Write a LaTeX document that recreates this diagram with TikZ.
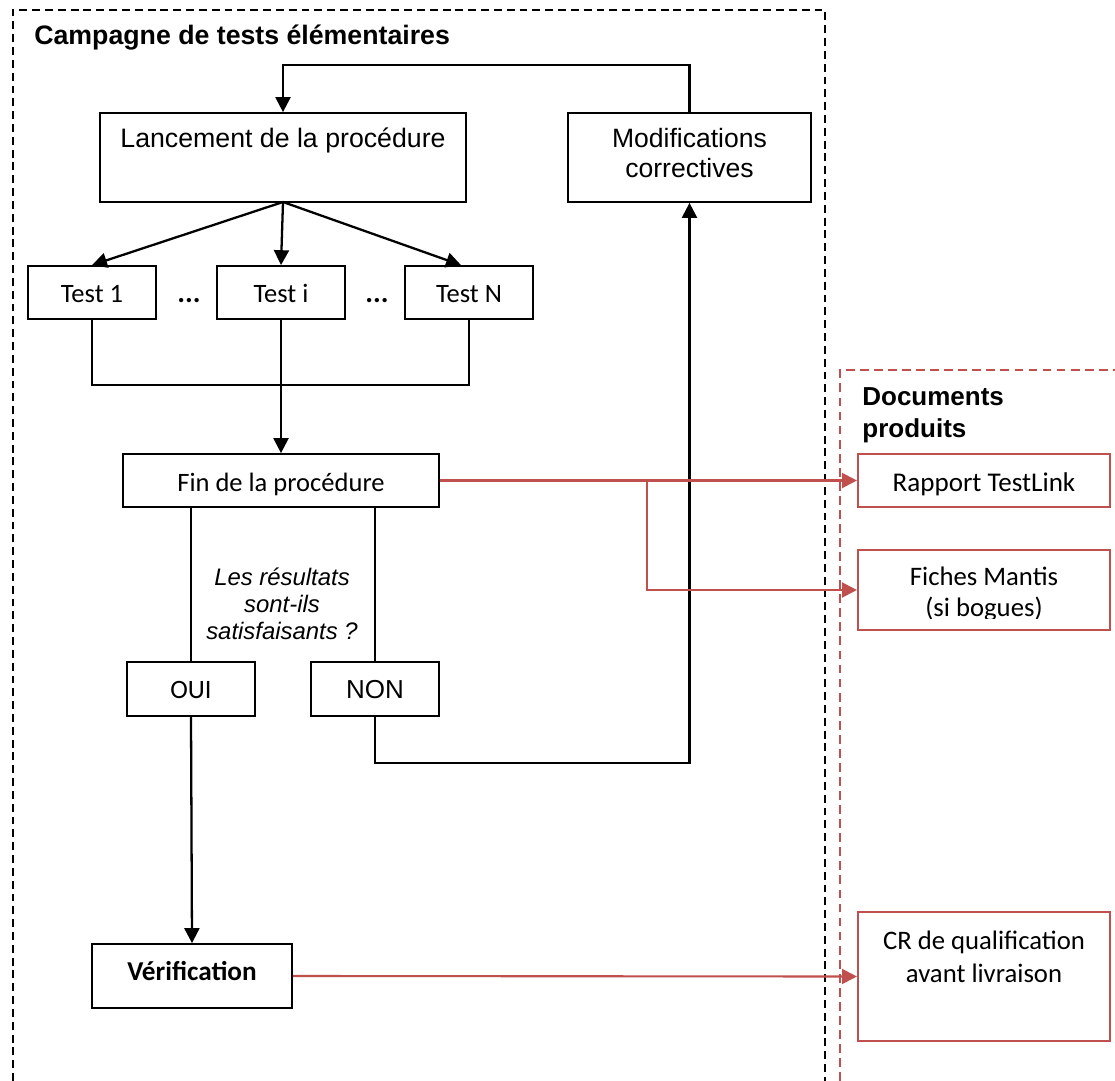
\documentclass[tikz,border=0pt]{standalone}
\usepackage{fontspec}
\setmainfont{Carlito}
\newfontfamily\arial{Liberation Sans}
\usetikzlibrary{arrows.meta,calc}
\definecolor{docred}{HTML}{C0504D}
\tikzset{
  box/.style={draw, line width=1pt, inner sep=0pt, text height=#1, text depth=0pt},
  rbox/.style={draw=docred, line width=1.2pt, inner sep=0pt},
  conn/.style={line width=1.3pt},
  arr/.style={line width=1.3pt, -{Triangle[length=8.5pt,width=8.5pt]}},
  rarr/.style={draw=docred, line width=1.2pt, -{Triangle[length=8.5pt,width=8.5pt]}},
  thin/.style={line width=1pt},
  frame/.style={line width=1.3pt, dash pattern=on 4.5pt off 2.8pt},
  rframe/.style={draw=docred, line width=1.1pt, dash pattern=on 5pt off 3pt},
  cal/.style={font=\fontsize{15.1}{18}\selectfont},
}
\begin{document}
\begin{tikzpicture}[x=0.02cm,y=-0.02cm]
\useasboundingbox (0,0) rectangle (1115,1081);
% frames
\draw[frame] (13,1081) -- (13,10) -- (825,10) -- (825,1081);
\draw[rframe] (840,1081) -- (840,370) -- (1115,370);
\node[anchor=base west, inner sep=0pt, font=\arial\bfseries\fontsize{15.2}{18}\selectfont] (title) at (34,45) {Campagne de tests élémentaires};
\node[anchor=base west, inner sep=0pt, align=left, font=\arial\bfseries\fontsize{14.8}{18}\selectfont] (docs) at (862,437) {Documents\\produits};

% black boxes
\node[box=0pt, text depth=19*0.02cm, minimum width=366*0.02cm, minimum height=89*0.02cm, font=\arial\fontsize{15.2}{18}\selectfont] (lanc) at (283,157.5) {Lancement de la procédure};
\node[draw, line width=1pt, minimum width=243*0.02cm, minimum height=89*0.02cm] (modif) at (689.5,157.5) {};
\node[anchor=base, inner sep=0pt, align=center, font=\arial\fontsize{15.1}{17.2}\selectfont] (modiftxt) at (689.5,178) {Modifications\\correctives};

\node[box=19*0.02cm, cal, minimum width=128*0.02cm, minimum height=53*0.02cm] (test1) at (92,292.5) {Test 1};
\node[box=19*0.02cm, cal, minimum width=128*0.02cm, minimum height=53*0.02cm] (testi) at (281,292.5) {Test i};
\node[box=19*0.02cm, cal, minimum width=128*0.02cm, minimum height=53*0.02cm] (testN) at (469,292.5) {Test N};
\node[anchor=base, inner sep=0pt, font=\bfseries\fontsize{16.5}{18}\selectfont] (dots1) at (189,302) {...};
\node[anchor=base, inner sep=0pt, font=\bfseries\fontsize{16.5}{18}\selectfont] (dots2) at (377,302) {...};

\node[box=21*0.02cm, cal, minimum width=316*0.02cm, minimum height=53*0.02cm] (fin) at (281,480.5) {Fin de la procédure};
\node[anchor=base, inner sep=0pt, align=center, font=\arial\itshape\fontsize{13.6}{15.3}\selectfont] (question) at (282,639) {Les résultats\\sont-ils\\satisfaisants ?};
\node[box=18*0.02cm, cal, minimum width=128*0.02cm, minimum height=54*0.02cm] (oui) at (191,689) {OUI};
\node[box=18*0.02cm, font=\arial\fontsize{14.8}{17}\selectfont, minimum width=128*0.02cm, minimum height=54*0.02cm] (non) at (375,689) {NON};
\node[box=8*0.02cm, font=\bfseries\fontsize{15.5}{18}\selectfont, minimum width=200*0.02cm, minimum height=64*0.02cm] (verif) at (192,976) {Vérification};

% red boxes
\node[rbox, text height=21*0.02cm, text depth=0pt, font=\fontsize{15.4}{18}\selectfont, minimum width=252*0.02cm, minimum height=53*0.02cm] (rapport) at (984,480.5) {Rapport TestLink};
\node[rbox, minimum width=252*0.02cm, minimum height=80*0.02cm] (fiches) at (984,590) {};
\begin{scope}
\clip (858,551) rectangle (1110,618);
\node[anchor=base, inner sep=0pt, align=center, font=\fontsize{15.2}{17.6}\selectfont] (fichestxt) at (984,616) {Fiches Mantis\\(si bogues)};
\end{scope}
\node[rbox, minimum width=252*0.02cm, minimum height=129*0.02cm] (cr) at (984,976.5) {};
\node[anchor=base, inner sep=0pt, align=center, font=\fontsize{15.2}{18.7}\selectfont] (crtxt) at (984,982) {CR de qualification\\avant livraison};

% connectors
\coordinate (loopL) at (283,65);
\draw[arr] (modif.north) |- (loopL) -- (lanc.north);
\coordinate (fork) at (283,202);
\draw[arr] (fork) -- (test1.north);
\draw[arr] (fork) -- (testi.north);
\draw[arr] (fork) -- ($(testN.north)+(-8,0)$);
\coordinate (join) at (281,385);
\draw[conn] (test1.south) |- (join) -| (testN.south);
\draw[arr] (testi.south) -- (fin.north);
\draw[thin] (fin.south -| oui.north) -- (oui.north);
\draw[thin] (fin.south -| non.north) -- (non.north);
\draw[arr] (oui.south) -- (verif.north);
\coordinate (nonR) at (689.5,763);
\draw[arr] (non.south) |- (nonR) -- (modif.south);
\draw[rarr] (fin.east) -- (rapport.west);
\coordinate (branch) at (647,480.5);
\draw[rarr] (branch) |- (fiches.west);
\draw[rarr] (verif.east) -- (cr.west);
\end{tikzpicture}
\end{document}
